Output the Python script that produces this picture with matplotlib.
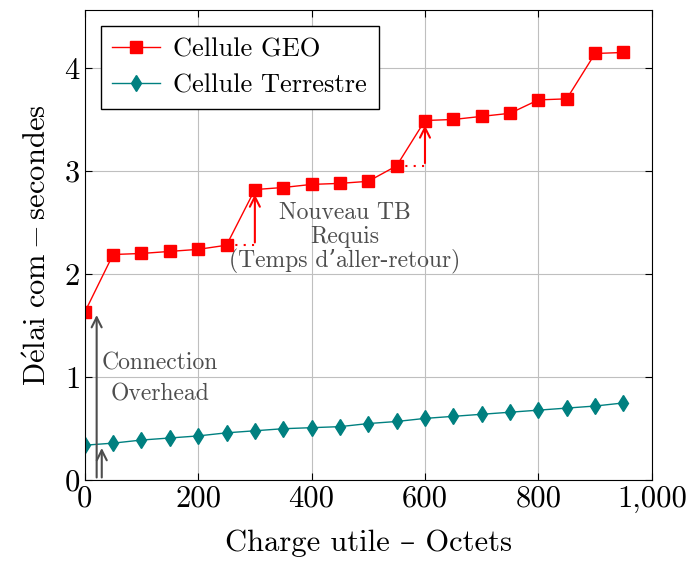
"""
delai de communication : cellule GEO vs terrestre
"""

import matplotlib
matplotlib.use("Agg")
import matplotlib.pyplot as plt
from matplotlib.ticker import FuncFormatter

plt.rcParams['font.family'] = ['cmr10', 'DejaVu Serif']
plt.rcParams['mathtext.fontset'] = 'cm'
plt.rcParams['axes.unicode_minus'] = False
plt.rcParams['axes.formatter.use_mathtext'] = True

payload = [0, 50, 100, 150, 200, 250, 300, 350, 400, 450,
           500, 550, 600, 650, 700, 750, 800, 850, 900, 950]
geo = [1.63, 2.19, 2.20, 2.22, 2.24, 2.28, 2.82, 2.84, 2.87, 2.88,
       2.90, 3.05, 3.49, 3.50, 3.53, 3.56, 3.69, 3.70, 4.14, 4.15]
terrestre = [0.34, 0.36, 0.39, 0.41, 0.43, 0.46, 0.48, 0.50, 0.51, 0.52,
             0.55, 0.57, 0.60, 0.62, 0.64, 0.66, 0.68, 0.70, 0.72, 0.75]
xticks = [0, 200, 400, 600, 800, 1000]
yticks = [0, 1, 2, 3, 4]

gray = "#4d4d4d"

fig = plt.figure(figsize=(6.89, 5.67), dpi=100)
ax = fig.add_axes([0.123, 0.153, 0.823, 0.829])

ax.plot(payload, geo, color="red", lw=1, marker="s", markersize=9,
        label="Cellule GEO")
ax.plot(payload, terrestre, color="#008080", lw=1, marker="d", markersize=8,
        label="Cellule Terrestre")

# connection overhead arrows
arrow = dict(arrowstyle="->", color=gray, lw=1.5, mutation_scale=18)
ax.annotate("", xy=(21, geo[0]), xytext=(21, 0), arrowprops=arrow)
ax.annotate("", xy=(30, terrestre[0]), xytext=(30, 0), arrowprops=arrow)
ax.text(132, 0.98, "Connection\nOverhead", color=gray, fontsize=17,
        ha="center", va="center", linespacing=1.5)

# nouveau TB requis
red_arrow = dict(arrowstyle="->", color="red", lw=1.5, mutation_scale=18)
for i in [5, 11]:
    ax.plot([payload[i], payload[i + 1] + 8], [geo[i], geo[i]],
            color="red", lw=1.5, ls=(0, (1, 3)))
    ax.annotate("", xy=(payload[i + 1], geo[i + 1] - 0.02),
                xytext=(payload[i + 1], geo[i]), arrowprops=red_arrow)
ax.text(458, 2.35, "Nouveau TB\nRequis\n(Temps d\u2019aller-retour)",
        color=gray, fontsize=17, ha="center", va="center", linespacing=1.1)

ax.set_xlim(0, 1000)
ax.set_ylim(0, 4.56)
ax.set_xticks(xticks)
ax.set_yticks(yticks)
ax.xaxis.set_major_formatter(FuncFormatter(lambda v, p: f"{int(v):,}"))
ax.tick_params(direction="in", labelsize=22, length=5, top=True, right=True)
ax.grid(True, color="#bfbfbf", lw=0.8)
ax.set_axisbelow(True)

ax.set_xlabel("Charge utile \u2013 Octets", fontsize=22, labelpad=12)
ax.set_ylabel(r"$\mathrm{D\acute{e}lai\ com} - \mathrm{secondes}$",
              fontsize=22, labelpad=8)

ax.legend(loc="upper left", fontsize=19, fancybox=False, edgecolor="black",
          framealpha=1, borderaxespad=0.6, handlelength=1.8, handletextpad=0.5,
          borderpad=0.45, labelspacing=0.45)

plt.savefig("out.png", dpi=100)
